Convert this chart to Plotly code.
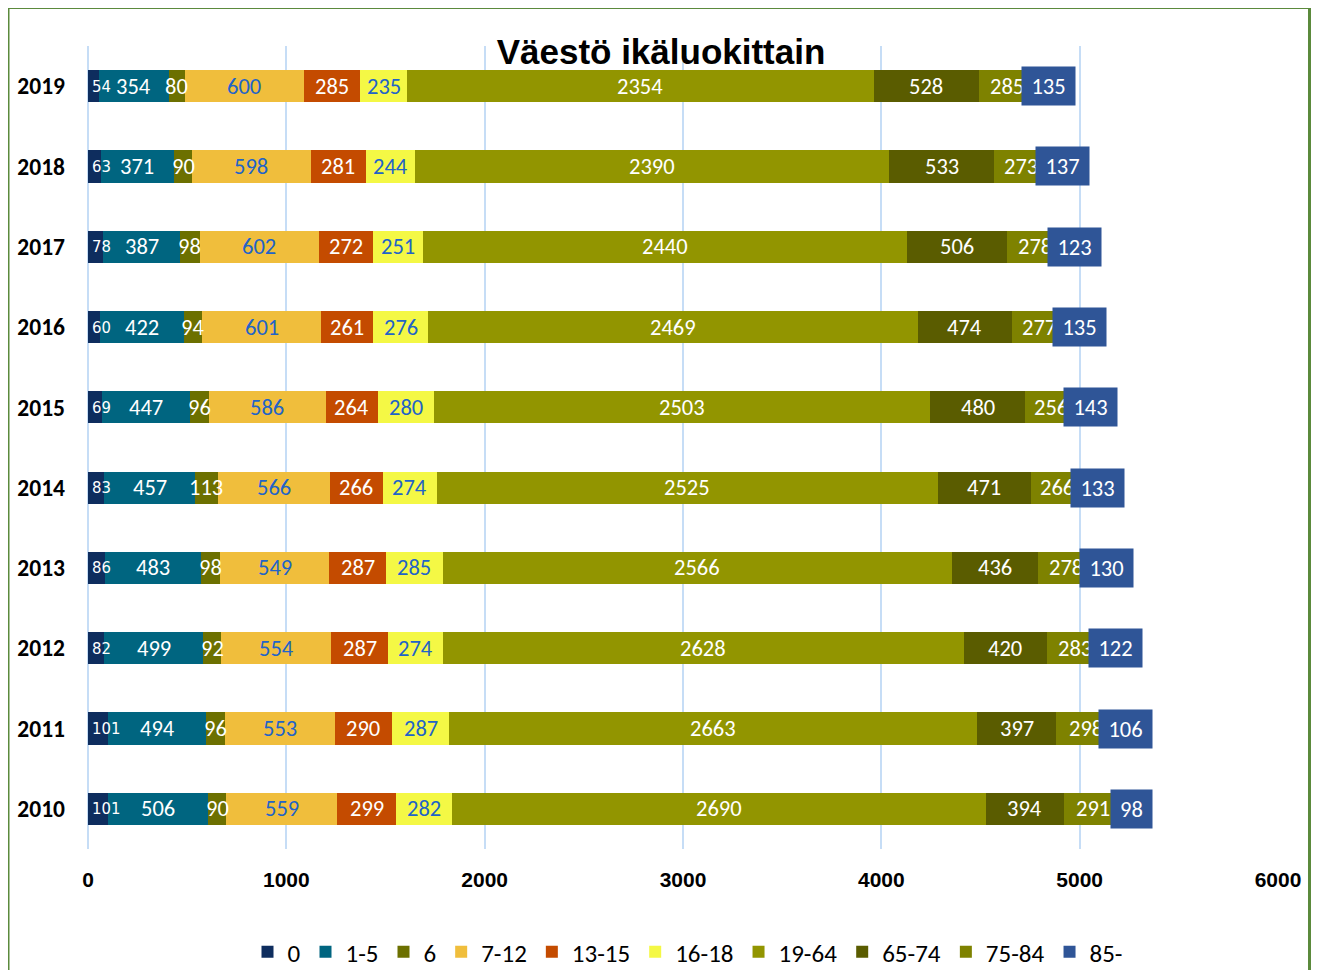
import plotly.graph_objects as go
import numpy as np

years = ["2019", "2018", "2017", "2016", "2015", "2014", "2013", "2012", "2011", "2010"]
groups = ["0", "1-5", "6", "7-12", "13-15", "16-18", "19-64", "65-74", "75-84", "85-"]

v_0 = [54, 63, 78, 60, 69, 83, 86, 82, 101, 101]
v_1_5 = [354, 371, 387, 422, 447, 457, 483, 499, 494, 506]
v_6 = [80, 90, 98, 94, 96, 113, 98, 92, 96, 90]
v_7_12 = [600, 598, 602, 601, 586, 566, 549, 554, 553, 559]
v_13_15 = [285, 281, 272, 261, 264, 266, 287, 287, 290, 299]
v_16_18 = [235, 244, 251, 276, 280, 274, 285, 274, 287, 282]
v_19_64 = [2354, 2390, 2440, 2469, 2503, 2525, 2566, 2628, 2663, 2690]
v_65_74 = [528, 533, 506, 474, 480, 471, 436, 420, 397, 394]
v_75_84 = [285, 273, 278, 277, 256, 266, 278, 283, 298, 291]
v_85 = [135, 137, 123, 135, 143, 133, 130, 122, 106, 98]

series = [v_0, v_1_5, v_6, v_7_12, v_13_15, v_16_18, v_19_64, v_65_74, v_75_84, v_85]
colors = ["#0E2D5E", "#006580", "#6C7000", "#F0BE3C", "#C44B00",
          "#F4F845", "#929500", "#5A5C00", "#7E8200", "#2F5597"]
label_colors = ["white", "white", "white", "#2163C8", "white",
                "#2163C8", "white", "white", "white", "white"]

LABEL_FONT = "Carlito, Lato, sans-serif"
COND = "'DejaVu Sans Condensed', 'Liberation Sans', sans-serif"
ARIALB = "'Liberation Sans', Arial, sans-serif"

# page body has an 8px margin; compensate so the chart sits where the reference has it
OFF = 8
W, H = 1304, 962
L, R_EDGE, T, B_EDGE = 88 - OFF, 1278 - OFF, 46 - OFF, 849 - OFF

cat_order = years[::-1]  # bottom-to-top

fig = go.Figure()
for name, vals, col in zip(groups, series, colors):
    fig.add_trace(go.Bar(
        y=years, x=vals, name=name, orientation="h",
        marker=dict(color=col, line=dict(width=0)),
        hoverinfo="x+name",
    ))

annotations = []
cum = np.zeros(len(years))
for si, vals in enumerate(series):
    vals_a = np.array(vals, dtype=float)
    centers = cum + vals_a / 2
    for yi, yr in enumerate(years):
        txt = str(vals[yi])
        ypos = cat_order.index(yr)
        if si == 0:
            base = dict(x=float(cum[yi]), y=ypos, xref="x", yref="y", text=txt,
                        showarrow=False, xanchor="left", yanchor="middle", xshift=2,
                        font=dict(family=COND, size=16.5, color="white"))
        else:
            base = dict(x=float(centers[yi]), y=ypos, xref="x", yref="y", text=txt,
                        showarrow=False, xanchor="center", yanchor="middle")
            if si == len(series) - 1:
                base["font"] = dict(family=LABEL_FONT, size=22.5, color="white")
                base.update(bgcolor=colors[si], width=17 + 12 * len(txt), height=38,
                            borderpad=0)
            else:
                base["font"] = dict(family=LABEL_FONT, size=22.5, color=label_colors[si])
        annotations.append(base)
    cum = cum + vals_a

fig.update_layout(
    width=W, height=H,
    paper_bgcolor="white", plot_bgcolor="white",
    margin=dict(l=L, r=W - R_EDGE, t=T, b=H - B_EDGE, autoexpand=False),
    barmode="stack", bargap=0.6,
    title=dict(text="<b>Väestö ikäluokittain</b>", x=(661 - 88) / 1190,
               xanchor="center", xref="paper", y=1 - (52 - OFF) / H, yanchor="middle",
               font=dict(family=ARIALB, size=35, color="black")),
    xaxis=dict(type="linear", range=[0, 6000], dtick=1000, tick0=0, showgrid=True,
               gridcolor="#C6DDF6", gridwidth=2, zeroline=True,
               zerolinecolor="#C6DDF6", zerolinewidth=2, showline=False,
               ticks="", ticklabelstandoff=16, automargin=False, fixedrange=True,
               tickfont=dict(family=ARIALB, size=21, color="black", weight="bold")),
    yaxis=dict(type="category", categoryorder="array", categoryarray=cat_order,
               range=[-0.5, len(years) - 0.5], autorange=False,
               showgrid=False, showline=False, ticks="", ticklabelstandoff=22,
               automargin=False,
               tickfont=dict(family=LABEL_FONT, size=23.5, color="black", weight="bold")),
    legend=dict(orientation="h", x=(688 - 88) / 1190, xanchor="center",
                y=1 - (952 - 46) / 803, yanchor="middle",
                font=dict(family=LABEL_FONT, size=25, color="black"),
                itemwidth=30, traceorder="normal", tracegroupgap=0),
    annotations=annotations,
    shapes=[dict(type="rect", xref="paper", yref="paper",
                 x0=(8 - 88) / 1190, x1=(1309.5 - 88) / 1190,
                 y0=1 - (1000 - 46) / 803, y1=1 + (46 - 7.5) / 803,
                 line=dict(color="#5B8A3C", width=3), fillcolor="rgba(0,0,0,0)",
                 layer="above")],
    showlegend=True,
)

fig.write_html("out.html")
